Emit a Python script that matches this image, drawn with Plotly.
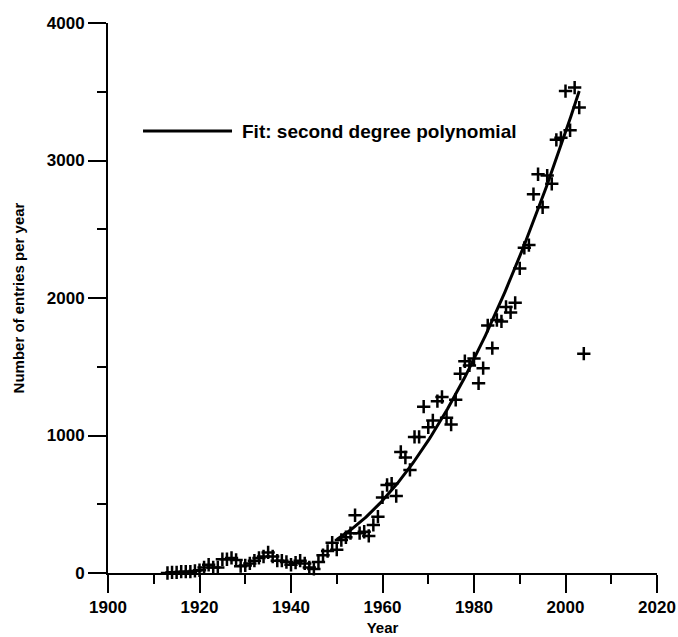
import numpy as np
import plotly.graph_objects as go

years = list(range(1913, 2005))
entries = [
    0, 5, 5, 10, 10, 10, 15,            # 1913-1919
    20, 40, 60, 40, 40, 100, 100, 110, 95, 50,   # 1920-1929
    55, 70, 90, 110, 120, 150, 120, 90, 90, 80,  # 1930-1939
    60, 75, 90, 70, 40, 30, 80, 130, 160, 220,   # 1940-1949
    170, 240, 260, 290, 420, 290, 300, 270, 350, 410,   # 1950-1959
    550, 640, 650, 560, 880, 840, 750, 990, 990, 1210,  # 1960-1969
    1060, 1110, 1250, 1280, 1130, 1080, 1260, 1450, 1540, 1510,  # 1970-1979
    1560, 1380, 1490, 1800, 1635, 1840, 1830, 1935, 1895, 1965,  # 1980-1989
    2215, 2365, 2385, 2755, 2900, 2660, 2890, 2830, 3150, 3165,  # 1990-1999
    3505, 3220, 3530, 3385, 1595,                                # 2000-2004
]

fit_start, fit_end = 1950, 2003
legend_text = "Fit: second degree polynomial"
x_title = "Year"
y_title = "Number of entries per year"

yr = np.array(years)
en = np.array(entries, dtype=float)
mask = (yr >= fit_start) & (yr <= fit_end)
coef = np.polyfit(yr[mask], en[mask], 2)
fit_x = np.linspace(fit_start, fit_end, 200)
fit_y = np.polyval(coef, fit_x)

FONT = "Liberation Sans, Arial, sans-serif"

fig = go.Figure()
fig.add_trace(go.Scatter(
    x=years, y=entries, mode="markers",
    marker=dict(symbol="cross-thin", size=9.5, line=dict(color="black", width=2.5), color="black"),
    showlegend=False, cliponaxis=False,
))
fig.add_trace(go.Scatter(
    x=fit_x, y=fit_y, mode="lines",
    line=dict(color="black", width=3),
    showlegend=False,
))

# manual legend
fig.add_shape(type="line", xref="paper", yref="paper",
              x0=0.0638, x1=0.2259, y0=0.8036, y1=0.8036,
              line=dict(color="black", width=3))
fig.add_annotation(xref="paper", yref="paper", x=0.2404, y=0.8036,
                   xanchor="left", yanchor="middle", showarrow=False,
                   text=legend_text,
                   font=dict(family=FONT, size=19, color="black", weight="bold"))

axis_common = dict(
    showline=True, linecolor="black", linewidth=2,
    ticks="outside", ticklen=18, tickwidth=2, tickcolor="black",
    showgrid=False, zeroline=False, automargin=False,
    tickfont=dict(family=FONT, size=17, color="black", weight="bold"),
)

fig.update_xaxes(
    range=[1900, 2020], tick0=1900, dtick=20,
    minor=dict(dtick=10, ticks="outside", ticklen=9, tickwidth=2, tickcolor="black"),
    title=dict(text=x_title, standoff=6,
               font=dict(family=FONT, size=15, color="black", weight="bold")),
    **axis_common,
)
fig.update_yaxes(
    range=[0, 4000], tick0=0, dtick=1000,
    minor=dict(dtick=500, ticks="outside", ticklen=9, tickwidth=2, tickcolor="black"),
    title=dict(text=y_title, standoff=19,
               font=dict(family=FONT, size=15, color="black", weight="bold")),
    **axis_common,
)

fig.update_layout(
    width=678, height=637,
    margin=dict(l=108, r=21, t=23, b=64),
    plot_bgcolor="white", paper_bgcolor="white",
    showlegend=False,
)

# remove the default page margin so the figure fills the window exactly
fig.write_html(
    "out.html",
    config={"displayModeBar": False},
    post_script="document.body.style.margin='0';document.body.style.overflow='hidden';",
)
